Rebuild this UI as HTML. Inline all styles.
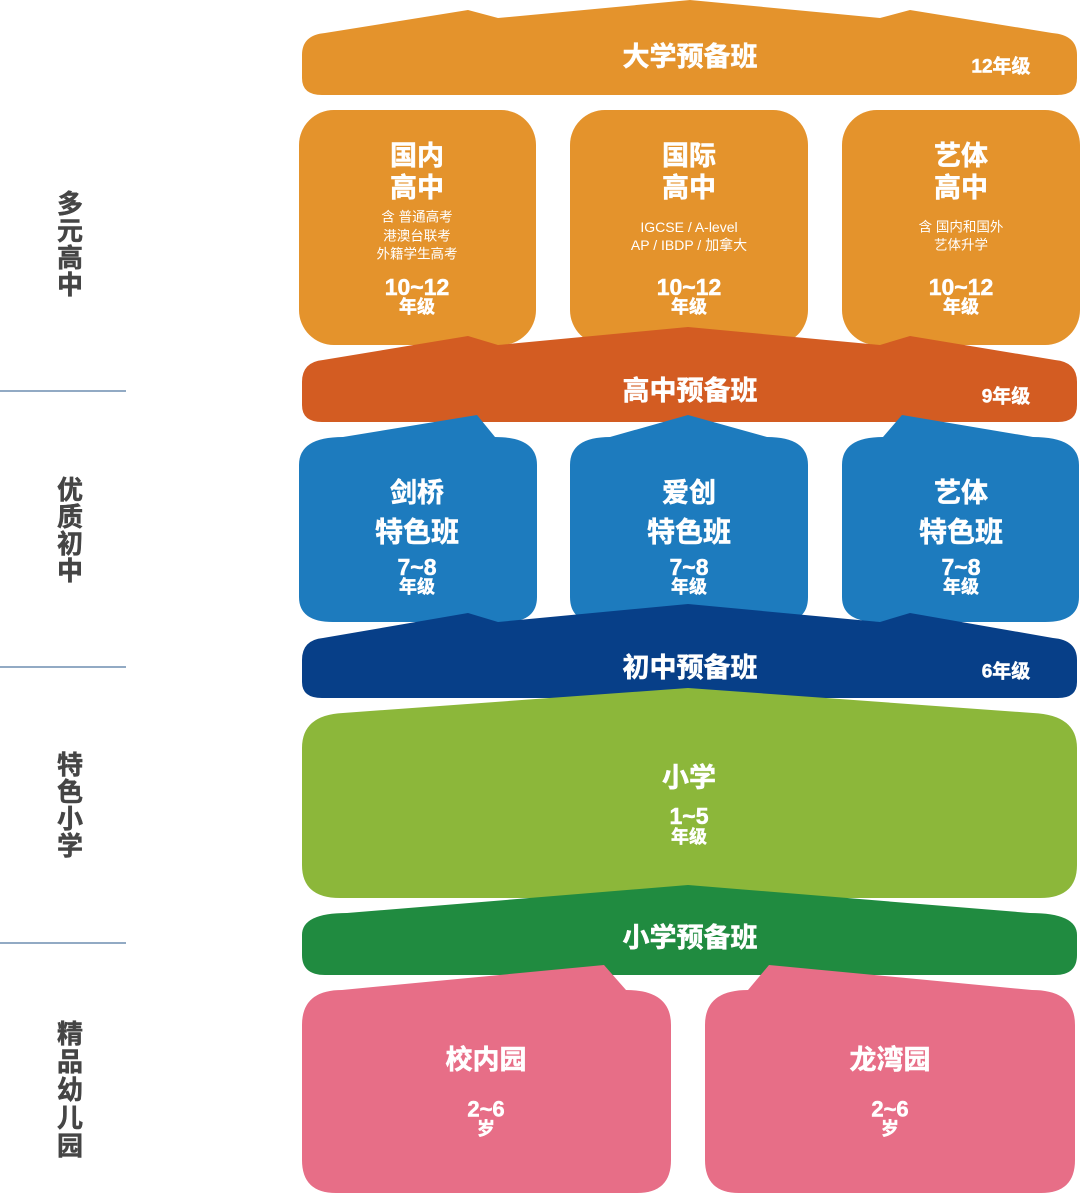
<!DOCTYPE html>
<html>
<head>
<meta charset="utf-8">
<style>
  html,body{margin:0;padding:0;background:#fff;}
  body{width:1080px;height:1193px;overflow:hidden;}
  svg{display:block;}
  .t{font-family:"Liberation Sans","Noto Sans CJK SC",sans-serif;fill:#fff;font-weight:bold;stroke:#fff;stroke-width:0.5;}
  .s{font-family:"Liberation Sans","Noto Sans CJK SC",sans-serif;fill:#fff;font-weight:normal;}
  .l{font-family:"Liberation Sans","Noto Sans CJK SC",sans-serif;fill:#454545;font-weight:bold;font-size:26px;stroke:#454545;stroke-width:0.5;}
</style>
</head>
<body>
<svg width="1080" height="1193" viewBox="0 0 1080 1193" xmlns="http://www.w3.org/2000/svg">
  <!-- left labels -->
  <g class="l" text-anchor="middle" dominant-baseline="central">
    <text x="70" y="204">多</text>
    <text x="70" y="231">元</text>
    <text x="70" y="258">高</text>
    <text x="70" y="285">中</text>

    <text x="70" y="490">优</text>
    <text x="70" y="517">质</text>
    <text x="70" y="544">初</text>
    <text x="70" y="571">中</text>

    <text x="70" y="765">特</text>
    <text x="70" y="792">色</text>
    <text x="70" y="819">小</text>
    <text x="70" y="846">学</text>

    <text x="70" y="1034">精</text>
    <text x="70" y="1062">品</text>
    <text x="70" y="1090">幼</text>
    <text x="70" y="1118">儿</text>
    <text x="70" y="1146">园</text>
  </g>
  <g stroke="#6f8db0" stroke-width="1.5">
    <line x1="0" y1="391" x2="126" y2="391"/>
    <line x1="0" y1="667" x2="126" y2="667"/>
    <line x1="0" y1="943" x2="126" y2="943"/>
  </g>

  <!-- 大学预备班 -->
  <path fill="#E4932C" d="M325,33 L468,10 L498,18 L690,0 L880,18 L910,10 L1052,33 Q1077,35 1077,55 L1077,78 Q1077,95 1057,95 L322,95 Q302,95 302,78 L302,55 Q302,35 325,33 Z"/>
  <text class="t" x="690" y="57" font-size="27" text-anchor="middle" dominant-baseline="central">大学预备班</text>
  <text class="t" x="1001" y="67" font-size="19" text-anchor="middle" dominant-baseline="central">12年级</text>

  <!-- high school boxes -->
  <rect x="299" y="110" width="237" height="235" rx="35" fill="#E4932C"/>
  <rect x="570" y="110" width="238" height="235" rx="35" fill="#E4932C"/>
  <rect x="842" y="110" width="238" height="235" rx="35" fill="#E4932C"/>

  <g text-anchor="middle" dominant-baseline="central">
    <text class="t" x="417" y="156" font-size="27">国内</text>
    <text class="t" x="417" y="188" font-size="27">高中</text>
    <text class="s" x="417" y="217" font-size="13.5">含 普通高考</text>
    <text class="s" x="417" y="236" font-size="13.5">港澳台联考</text>
    <text class="s" x="417" y="254" font-size="13.5">外籍学生高考</text>
    <text class="t" x="417" y="287" font-size="23">10~12</text>
    <text class="t" x="417" y="307" font-size="18">年级</text>

    <text class="t" x="689" y="156" font-size="27">国际</text>
    <text class="t" x="689" y="188" font-size="27">高中</text>
    <text class="s" x="689" y="227" font-size="14">IGCSE / A-level</text>
    <text class="s" x="689" y="245" font-size="14">AP / IBDP / 加拿大</text>
    <text class="t" x="689" y="287" font-size="23">10~12</text>
    <text class="t" x="689" y="307" font-size="18">年级</text>

    <text class="t" x="961" y="156" font-size="27">艺体</text>
    <text class="t" x="961" y="188" font-size="27">高中</text>
    <text class="s" x="961" y="227" font-size="13.5">含 国内和国外</text>
    <text class="s" x="961" y="245" font-size="13.5">艺体升学</text>
    <text class="t" x="961" y="287" font-size="23">10~12</text>
    <text class="t" x="961" y="307" font-size="18">年级</text>
  </g>

  <!-- 高中预备班 -->
  <path fill="#D35C22" d="M323,360 L468,336 L498,345 L688,327 L880,345 L910,336 L1055,360 Q1077,362 1077,382 L1077,405 Q1077,422 1058,422 L322,422 Q302,422 302,405 L302,382 Q302,362 323,360 Z"/>
  <text class="t" x="690" y="391" font-size="27" text-anchor="middle" dominant-baseline="central">高中预备班</text>
  <text class="t" x="1006" y="397" font-size="19" text-anchor="middle" dominant-baseline="central">9年级</text>

  <!-- blue boxes -->
  <path fill="#1D7BBE" d="M343,437 L477,415 L495,437 Q537,437 537,465 L537,597 Q537,622 505,622 L333,622 Q299,622 299,597 L299,465 Q299,437 343,437 Z"/>
  <path fill="#1D7BBE" d="M610,437 L688,415 L767,437 Q808,437 808,465 L808,597 Q808,622 780,622 L598,622 Q570,622 570,597 L570,465 Q570,437 610,437 Z"/>
  <path fill="#1D7BBE" d="M883,437 L902,415 L1033,437 Q1079,437 1079,465 L1079,597 Q1079,622 1045,622 L878,622 Q842,622 842,597 L842,465 Q842,437 883,437 Z"/>

  <g text-anchor="middle" dominant-baseline="central">
    <text class="t" x="417" y="493" font-size="27">剑桥</text>
    <text class="t" x="417" y="532" font-size="28">特色班</text>
    <text class="t" x="417" y="567" font-size="23">7~8</text>
    <text class="t" x="417" y="587" font-size="18">年级</text>

    <text class="t" x="689" y="493" font-size="27">爱创</text>
    <text class="t" x="689" y="532" font-size="28">特色班</text>
    <text class="t" x="689" y="567" font-size="23">7~8</text>
    <text class="t" x="689" y="587" font-size="18">年级</text>

    <text class="t" x="961" y="493" font-size="27">艺体</text>
    <text class="t" x="961" y="532" font-size="28">特色班</text>
    <text class="t" x="961" y="567" font-size="23">7~8</text>
    <text class="t" x="961" y="587" font-size="18">年级</text>
  </g>

  <!-- 初中预备班 -->
  <path fill="#073F88" d="M323,638 L468,613 L498,622 L688,604 L880,622 L910,613 L1053,638 Q1077,640 1077,660 L1077,682 Q1077,698 1058,698 L322,698 Q302,698 302,682 L302,660 Q302,640 323,638 Z"/>
  <text class="t" x="690" y="668" font-size="27" text-anchor="middle" dominant-baseline="central">初中预备班</text>
  <text class="t" x="1006" y="672" font-size="19" text-anchor="middle" dominant-baseline="central">6年级</text>

  <!-- 小学 -->
  <path fill="#8CB73A" d="M343,713 L688,688 L1033,713 Q1077,715 1077,748 L1077,865 Q1077,898 1040,898 L340,898 Q302,898 302,865 L302,748 Q302,715 343,713 Z"/>
  <g text-anchor="middle" dominant-baseline="central">
    <text class="t" x="689" y="778" font-size="27">小学</text>
    <text class="t" x="689" y="816" font-size="23">1~5</text>
    <text class="t" x="689" y="837" font-size="18">年级</text>
  </g>

  <!-- 小学预备班 -->
  <path fill="#208B40" d="M347,913 L688,885 L1030,913 Q1077,913 1077,935 L1077,955 Q1077,975 1055,975 L325,975 Q302,975 302,955 L302,935 Q302,913 347,913 Z"/>
  <text class="t" x="690" y="938" font-size="27" text-anchor="middle" dominant-baseline="central">小学预备班</text>

  <!-- kindergartens -->
  <path fill="#E76E87" d="M342,990 L604,965 L626,990 Q671,990 671,1025 L671,1160 Q671,1193 637,1193 L336,1193 Q302,1193 302,1160 L302,1025 Q302,990 342,990 Z"/>
  <path fill="#E76E87" d="M748,990 L769,965 L1032,990 Q1075,990 1075,1025 L1075,1160 Q1075,1193 1041,1193 L739,1193 Q705,1193 705,1160 L705,1025 Q705,990 748,990 Z"/>
  <g text-anchor="middle" dominant-baseline="central">
    <text class="t" x="486" y="1060" font-size="27">校内园</text>
    <text class="t" x="486" y="1109" font-size="22">2~6</text>
    <text class="t" x="486" y="1129" font-size="18">岁</text>

    <text class="t" x="890" y="1060" font-size="27">龙湾园</text>
    <text class="t" x="890" y="1109" font-size="22">2~6</text>
    <text class="t" x="890" y="1129" font-size="18">岁</text>
  </g>
</svg>
</body>
</html>
